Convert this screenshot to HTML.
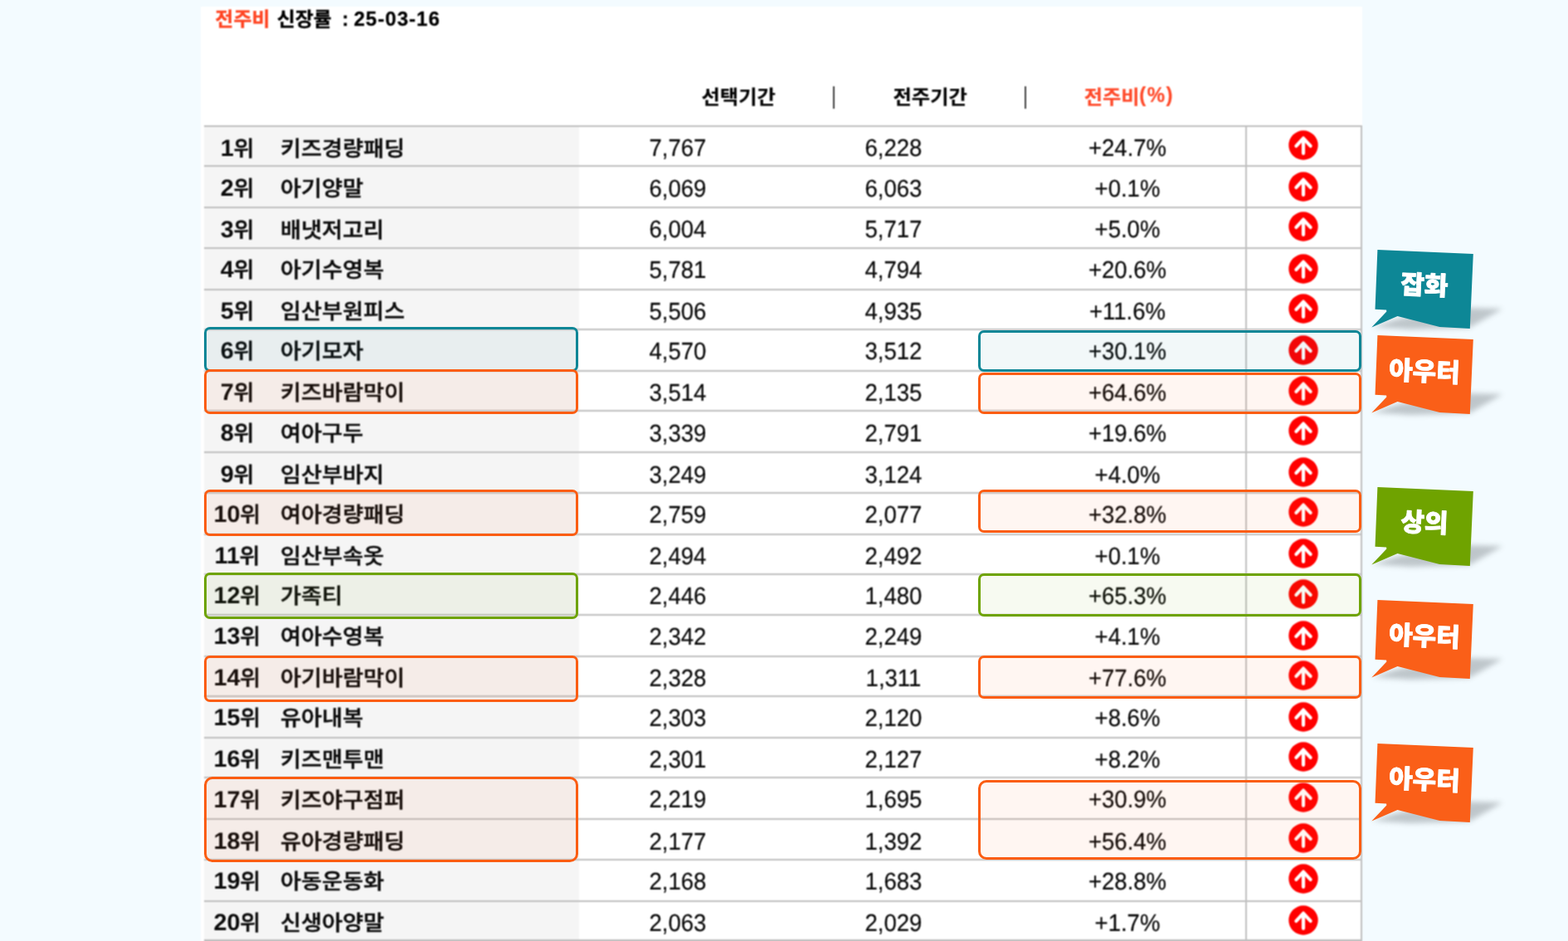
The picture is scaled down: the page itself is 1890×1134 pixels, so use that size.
<!DOCTYPE html>
<html lang="ko"><head><meta charset="utf-8"><title>전주비 신장률</title>
<style>
html,body{margin:0;padding:0}
body{width:1890px;height:1134px;overflow:hidden;position:relative;background:#f3fbff;
 font-family:"Liberation Sans","Noto Sans CJK KR",sans-serif;color:#222}
#page{position:absolute;left:0;top:0;width:1890px;height:1134px;overflow:hidden;filter:url(#soft)}
.panel,.ttl,.hd,.pipe,.gcol,.hl,.vl,.rk,.nm,.nu,.ic,.box,.bub{position:absolute}
.panel{left:242px;top:8px;width:1400px;height:1126px;background:#fff}
.ttl{top:0;height:46px;line-height:46px;font-size:24px;font-weight:700;color:#000;white-space:nowrap;transform-origin:0 70%;-webkit-text-stroke:.3px currentColor}
.ttl.red{color:#ff4422}
.ttl.k{transform:scaleY(.96)}
.ttl.n{letter-spacing:1.05px;transform:scaleY(1.03)}
.hd{top:96px;height:40px;line-height:40px;font-size:24px;font-weight:700;color:#050505;-webkit-text-stroke:.2px currentColor;white-space:nowrap;text-align:center;width:160px}
.hd u{display:inline-block;text-decoration:none;transform:translateY(.4px) scale(1.01,.955);transform-origin:50% 78%}
.hd.red{color:#ff4a2a}
.hd i{display:inline-block;font-style:normal;letter-spacing:1.5px;transform:translateY(-.6px) scaleY(1.1);transform-origin:50% 70%}
.pipe{width:2px;height:27px;top:104px;background:#444}
.gcol{left:246px;top:152px;width:452px;height:982px;background:#f5f5f5}
.hl{left:246px;width:1396px;height:2px;background:#c0c0c0}
.vl{width:2px;top:151px;height:983px;background:#c0c0c0}
.rk,.nm,.nu{height:48px;line-height:48px;white-space:nowrap}
.rk,.nm{font-size:27px;font-weight:500;color:#0c0c0c;-webkit-text-stroke:0.55px #0c0c0c}
.rk{width:120px;text-align:center}
.rk b,.rk i{display:inline-block;font-style:normal;font-weight:500}
.rk i{transform:translateY(-1.2px) scaleY(0.925);transform-origin:50% 76%}
.rk b{font-weight:700;font-size:28px;-webkit-text-stroke:0;transform:translateY(-.7px) scale(1.03,1.012);transform-origin:50% 33.7px;margin:0 .2px 0 -.8px;text-rendering:geometricPrecision}
.nm{transform:translateY(-1.2px) scale(1.006,0.925);transform-origin:0 76%}
.nu{width:200px;text-align:center;font-weight:400;color:#0a0a0a;-webkit-text-stroke:.22px #0a0a0a;font-size:28px;transform:scale(0.983,1.04);transform-origin:50% 33.7px;text-rendering:geometricPrecision}
.ic{width:36px;height:36px}
.ic svg{display:block}
.box{box-sizing:border-box;border-style:solid;border-width:3px;border-radius:7px}
.box.t{border-color:#0c8696;background:rgba(13,135,150,.055)}
.box.o{border-color:#fb5d12;background:rgba(251,93,18,.055)}
.box.g{border-color:#6ea300;background:rgba(111,163,0,.055)}
.bub{left:1640px;width:190px;height:110px}
.bub svg{display:block;overflow:visible}
.bub text{font-family:"Liberation Sans","Noto Sans CJK KR",sans-serif;font-weight:900;font-size:31px;fill:#fff;stroke:#fff;stroke-width:.8px;stroke-linejoin:round}
</style></head><body><svg width="0" height="0" style="position:absolute" aria-hidden="true"><defs><filter id="soft" x="0" y="0" width="100%" height="100%" color-interpolation-filters="sRGB"><feConvolveMatrix order="3" kernelMatrix="0.0784 0.1232 0.0784 0.1232 0.1936 0.1232 0.0784 0.1232 0.0784" divisor="1" edgeMode="duplicate" preserveAlpha="false"/></filter></defs></svg><div id="page">
<div class="panel"></div>
<div class="ttl red k" style="left:259.3px">전주비</div>
<div class="ttl k" style="left:333.7px">신장률</div>
<div class="ttl" style="left:412.2px">:</div>
<div class="ttl n" style="left:426.4px">25-03-16</div>

<div class="hd" style="left:809.8px"><u>선택기간</u></div>
<div class="pipe" style="left:1004px"></div>
<div class="hd" style="left:1040.8px"><u>전주기간</u></div>
<div class="pipe" style="left:1235px"></div>
<div class="hd red" style="left:1281px"><u>전주비</u><i>(%)</i></div>
<div class="gcol"></div>
<div class="hl" style="top:151px"></div>
<div class="hl" style="top:199px"></div>
<div class="hl" style="top:249px"></div>
<div class="hl" style="top:298px"></div>
<div class="hl" style="top:348px"></div>
<div class="hl" style="top:396px"></div>
<div class="hl" style="top:446px"></div>
<div class="hl" style="top:494px"></div>
<div class="hl" style="top:544px"></div>
<div class="hl" style="top:593px"></div>
<div class="hl" style="top:643px"></div>
<div class="hl" style="top:691px"></div>
<div class="hl" style="top:740px"></div>
<div class="hl" style="top:790px"></div>
<div class="hl" style="top:838px"></div>
<div class="hl" style="top:888px"></div>
<div class="hl" style="top:936px"></div>
<div class="hl" style="top:986px"></div>
<div class="hl" style="top:1035px"></div>
<div class="hl" style="top:1085px"></div>
<div class="hl" style="top:1132px"></div>
<div class="vl" style="left:1501px"></div>
<div class="vl" style="left:1640px"></div>
<div class="tbl" role="table" aria-label="전주비 신장률 순위">
<div class="row" role="row">
<div class="rk" role="cell" style="left:226.5px;top:156px"><b>1</b><i>위</i></div>
<div class="nm" role="cell" style="left:337.9px;top:156px">키즈경량패딩</div>
<div class="nu" role="cell" style="left:716.8px;top:155px">7,767</div>
<div class="nu" role="cell" style="left:976.7px;top:155px">6,228</div>
<div class="nu" role="cell" style="left:1258.9px;top:155px">+24.7%</div>
<div class="ic" role="cell" style="left:1553.4px;top:156.8px"><svg width="36" height="36" viewBox="0 0 36 36"><circle cx="18" cy="18" r="17.7" fill="#ff0000"/><path d="M18 27.8V9.8M9.4 18.9L18 9.6L26.6 18.9" fill="none" stroke="#fff" stroke-width="4.2" stroke-linecap="round" stroke-linejoin="round"/></svg></div>
</div>
<div class="row" role="row">
<div class="rk" role="cell" style="left:226.5px;top:204px"><b>2</b><i>위</i></div>
<div class="nm" role="cell" style="left:337.9px;top:204px">아기양말</div>
<div class="nu" role="cell" style="left:716.8px;top:204px">6,069</div>
<div class="nu" role="cell" style="left:976.7px;top:204px">6,063</div>
<div class="nu" role="cell" style="left:1258.9px;top:204px">+0.1%</div>
<div class="ic" role="cell" style="left:1553.4px;top:207px"><svg width="36" height="36" viewBox="0 0 36 36"><circle cx="18" cy="18" r="17.7" fill="#ff0000"/><path d="M18 27.8V9.8M9.4 18.9L18 9.6L26.6 18.9" fill="none" stroke="#fff" stroke-width="4.2" stroke-linecap="round" stroke-linejoin="round"/></svg></div>
</div>
<div class="row" role="row">
<div class="rk" role="cell" style="left:226.5px;top:254px"><b>3</b><i>위</i></div>
<div class="nm" role="cell" style="left:337.9px;top:254px">배냇저고리</div>
<div class="nu" role="cell" style="left:716.8px;top:253px">6,004</div>
<div class="nu" role="cell" style="left:976.7px;top:253px">5,717</div>
<div class="nu" role="cell" style="left:1258.9px;top:253px">+5.0%</div>
<div class="ic" role="cell" style="left:1553.4px;top:255.3px"><svg width="36" height="36" viewBox="0 0 36 36"><circle cx="18" cy="18" r="17.7" fill="#ff0000"/><path d="M18 27.8V9.8M9.4 18.9L18 9.6L26.6 18.9" fill="none" stroke="#fff" stroke-width="4.2" stroke-linecap="round" stroke-linejoin="round"/></svg></div>
</div>
<div class="row" role="row">
<div class="rk" role="cell" style="left:226.5px;top:302px"><b>4</b><i>위</i></div>
<div class="nm" role="cell" style="left:337.9px;top:302px">아기수영복</div>
<div class="nu" role="cell" style="left:716.8px;top:302px">5,781</div>
<div class="nu" role="cell" style="left:976.7px;top:302px">4,794</div>
<div class="nu" role="cell" style="left:1258.9px;top:302px">+20.6%</div>
<div class="ic" role="cell" style="left:1553.4px;top:305.8px"><svg width="36" height="36" viewBox="0 0 36 36"><circle cx="18" cy="18" r="17.7" fill="#ff0000"/><path d="M18 27.8V9.8M9.4 18.9L18 9.6L26.6 18.9" fill="none" stroke="#fff" stroke-width="4.2" stroke-linecap="round" stroke-linejoin="round"/></svg></div>
</div>
<div class="row" role="row">
<div class="rk" role="cell" style="left:226.5px;top:352px"><b>5</b><i>위</i></div>
<div class="nm" role="cell" style="left:337.9px;top:352px">임산부원피스</div>
<div class="nu" role="cell" style="left:716.8px;top:352px">5,506</div>
<div class="nu" role="cell" style="left:976.7px;top:352px">4,935</div>
<div class="nu" role="cell" style="left:1258.9px;top:352px">+11.6%</div>
<div class="ic" role="cell" style="left:1553.4px;top:353.7px"><svg width="36" height="36" viewBox="0 0 36 36"><circle cx="18" cy="18" r="17.7" fill="#ff0000"/><path d="M18 27.8V9.8M9.4 18.9L18 9.6L26.6 18.9" fill="none" stroke="#fff" stroke-width="4.2" stroke-linecap="round" stroke-linejoin="round"/></svg></div>
</div>
<div class="row" role="row">
<div class="rk" role="cell" style="left:226.5px;top:400px"><b>6</b><i>위</i></div>
<div class="nm" role="cell" style="left:337.9px;top:400px">아기모자</div>
<div class="nu" role="cell" style="left:716.8px;top:400px">4,570</div>
<div class="nu" role="cell" style="left:976.7px;top:400px">3,512</div>
<div class="nu" role="cell" style="left:1258.9px;top:400px">+30.1%</div>
<div class="ic" role="cell" style="left:1553.4px;top:404.1px"><svg width="36" height="36" viewBox="0 0 36 36"><circle cx="18" cy="18" r="17.7" fill="#ff0000"/><path d="M18 27.8V9.8M9.4 18.9L18 9.6L26.6 18.9" fill="none" stroke="#fff" stroke-width="4.2" stroke-linecap="round" stroke-linejoin="round"/></svg></div>
</div>
<div class="row" role="row">
<div class="rk" role="cell" style="left:226.5px;top:450px"><b>7</b><i>위</i></div>
<div class="nm" role="cell" style="left:337.9px;top:450px">키즈바람막이</div>
<div class="nu" role="cell" style="left:716.8px;top:450px">3,514</div>
<div class="nu" role="cell" style="left:976.7px;top:450px">2,135</div>
<div class="nu" role="cell" style="left:1258.9px;top:450px">+64.6%</div>
<div class="ic" role="cell" style="left:1553.4px;top:452.6px"><svg width="36" height="36" viewBox="0 0 36 36"><circle cx="18" cy="18" r="17.7" fill="#ff0000"/><path d="M18 27.8V9.8M9.4 18.9L18 9.6L26.6 18.9" fill="none" stroke="#fff" stroke-width="4.2" stroke-linecap="round" stroke-linejoin="round"/></svg></div>
</div>
<div class="row" role="row">
<div class="rk" role="cell" style="left:226.5px;top:499px"><b>8</b><i>위</i></div>
<div class="nm" role="cell" style="left:337.9px;top:499px">여아구두</div>
<div class="nu" role="cell" style="left:716.8px;top:499px">3,339</div>
<div class="nu" role="cell" style="left:976.7px;top:499px">2,791</div>
<div class="nu" role="cell" style="left:1258.9px;top:499px">+19.6%</div>
<div class="ic" role="cell" style="left:1553.4px;top:500.7px"><svg width="36" height="36" viewBox="0 0 36 36"><circle cx="18" cy="18" r="17.7" fill="#ff0000"/><path d="M18 27.8V9.8M9.4 18.9L18 9.6L26.6 18.9" fill="none" stroke="#fff" stroke-width="4.2" stroke-linecap="round" stroke-linejoin="round"/></svg></div>
</div>
<div class="row" role="row">
<div class="rk" role="cell" style="left:226.5px;top:549px"><b>9</b><i>위</i></div>
<div class="nm" role="cell" style="left:337.9px;top:549px">임산부바지</div>
<div class="nu" role="cell" style="left:716.8px;top:549px">3,249</div>
<div class="nu" role="cell" style="left:976.7px;top:549px">3,124</div>
<div class="nu" role="cell" style="left:1258.9px;top:549px">+4.0%</div>
<div class="ic" role="cell" style="left:1553.4px;top:550.7px"><svg width="36" height="36" viewBox="0 0 36 36"><circle cx="18" cy="18" r="17.7" fill="#ff0000"/><path d="M18 27.8V9.8M9.4 18.9L18 9.6L26.6 18.9" fill="none" stroke="#fff" stroke-width="4.2" stroke-linecap="round" stroke-linejoin="round"/></svg></div>
</div>
<div class="row" role="row">
<div class="rk" role="cell" style="left:226.5px;top:597px"><b>10</b><i>위</i></div>
<div class="nm" role="cell" style="left:337.9px;top:597px">여아경량패딩</div>
<div class="nu" role="cell" style="left:716.8px;top:597px">2,759</div>
<div class="nu" role="cell" style="left:976.7px;top:597px">2,077</div>
<div class="nu" role="cell" style="left:1258.9px;top:597px">+32.8%</div>
<div class="ic" role="cell" style="left:1553.4px;top:599px"><svg width="36" height="36" viewBox="0 0 36 36"><circle cx="18" cy="18" r="17.7" fill="#ff0000"/><path d="M18 27.8V9.8M9.4 18.9L18 9.6L26.6 18.9" fill="none" stroke="#fff" stroke-width="4.2" stroke-linecap="round" stroke-linejoin="round"/></svg></div>
</div>
<div class="row" role="row">
<div class="rk" role="cell" style="left:226.5px;top:647px"><b>11</b><i>위</i></div>
<div class="nm" role="cell" style="left:337.9px;top:647px">임산부속옷</div>
<div class="nu" role="cell" style="left:716.8px;top:647px">2,494</div>
<div class="nu" role="cell" style="left:976.7px;top:647px">2,492</div>
<div class="nu" role="cell" style="left:1258.9px;top:647px">+0.1%</div>
<div class="ic" role="cell" style="left:1553.4px;top:649px"><svg width="36" height="36" viewBox="0 0 36 36"><circle cx="18" cy="18" r="17.7" fill="#ff0000"/><path d="M18 27.8V9.8M9.4 18.9L18 9.6L26.6 18.9" fill="none" stroke="#fff" stroke-width="4.2" stroke-linecap="round" stroke-linejoin="round"/></svg></div>
</div>
<div class="row" role="row">
<div class="rk" role="cell" style="left:226.5px;top:695px"><b>12</b><i>위</i></div>
<div class="nm" role="cell" style="left:337.9px;top:695px">가족티</div>
<div class="nu" role="cell" style="left:716.8px;top:695px">2,446</div>
<div class="nu" role="cell" style="left:976.7px;top:695px">1,480</div>
<div class="nu" role="cell" style="left:1258.9px;top:695px">+65.3%</div>
<div class="ic" role="cell" style="left:1553.4px;top:697.5px"><svg width="36" height="36" viewBox="0 0 36 36"><circle cx="18" cy="18" r="17.7" fill="#ff0000"/><path d="M18 27.8V9.8M9.4 18.9L18 9.6L26.6 18.9" fill="none" stroke="#fff" stroke-width="4.2" stroke-linecap="round" stroke-linejoin="round"/></svg></div>
</div>
<div class="row" role="row">
<div class="rk" role="cell" style="left:226.5px;top:744px"><b>13</b><i>위</i></div>
<div class="nm" role="cell" style="left:337.9px;top:744px">여아수영복</div>
<div class="nu" role="cell" style="left:716.8px;top:744px">2,342</div>
<div class="nu" role="cell" style="left:976.7px;top:744px">2,249</div>
<div class="nu" role="cell" style="left:1258.9px;top:744px">+4.1%</div>
<div class="ic" role="cell" style="left:1553.4px;top:747.6px"><svg width="36" height="36" viewBox="0 0 36 36"><circle cx="18" cy="18" r="17.7" fill="#ff0000"/><path d="M18 27.8V9.8M9.4 18.9L18 9.6L26.6 18.9" fill="none" stroke="#fff" stroke-width="4.2" stroke-linecap="round" stroke-linejoin="round"/></svg></div>
</div>
<div class="row" role="row">
<div class="rk" role="cell" style="left:226.5px;top:794px"><b>14</b><i>위</i></div>
<div class="nm" role="cell" style="left:337.9px;top:794px">아기바람막이</div>
<div class="nu" role="cell" style="left:716.8px;top:794px">2,328</div>
<div class="nu" role="cell" style="left:976.7px;top:794px">1,311</div>
<div class="nu" role="cell" style="left:1258.9px;top:794px">+77.6%</div>
<div class="ic" role="cell" style="left:1553.4px;top:795.9px"><svg width="36" height="36" viewBox="0 0 36 36"><circle cx="18" cy="18" r="17.7" fill="#ff0000"/><path d="M18 27.8V9.8M9.4 18.9L18 9.6L26.6 18.9" fill="none" stroke="#fff" stroke-width="4.2" stroke-linecap="round" stroke-linejoin="round"/></svg></div>
</div>
<div class="row" role="row">
<div class="rk" role="cell" style="left:226.5px;top:842px"><b>15</b><i>위</i></div>
<div class="nm" role="cell" style="left:337.9px;top:842px">유아내복</div>
<div class="nu" role="cell" style="left:716.8px;top:842px">2,303</div>
<div class="nu" role="cell" style="left:976.7px;top:842px">2,120</div>
<div class="nu" role="cell" style="left:1258.9px;top:842px">+8.6%</div>
<div class="ic" role="cell" style="left:1553.4px;top:845.7px"><svg width="36" height="36" viewBox="0 0 36 36"><circle cx="18" cy="18" r="17.7" fill="#ff0000"/><path d="M18 27.8V9.8M9.4 18.9L18 9.6L26.6 18.9" fill="none" stroke="#fff" stroke-width="4.2" stroke-linecap="round" stroke-linejoin="round"/></svg></div>
</div>
<div class="row" role="row">
<div class="rk" role="cell" style="left:226.5px;top:892px"><b>16</b><i>위</i></div>
<div class="nm" role="cell" style="left:337.9px;top:892px">키즈맨투맨</div>
<div class="nu" role="cell" style="left:716.8px;top:892px">2,301</div>
<div class="nu" role="cell" style="left:976.7px;top:892px">2,127</div>
<div class="nu" role="cell" style="left:1258.9px;top:892px">+8.2%</div>
<div class="ic" role="cell" style="left:1553.4px;top:894.1px"><svg width="36" height="36" viewBox="0 0 36 36"><circle cx="18" cy="18" r="17.7" fill="#ff0000"/><path d="M18 27.8V9.8M9.4 18.9L18 9.6L26.6 18.9" fill="none" stroke="#fff" stroke-width="4.2" stroke-linecap="round" stroke-linejoin="round"/></svg></div>
</div>
<div class="row" role="row">
<div class="rk" role="cell" style="left:226.5px;top:941px"><b>17</b><i>위</i></div>
<div class="nm" role="cell" style="left:337.9px;top:941px">키즈야구점퍼</div>
<div class="nu" role="cell" style="left:716.8px;top:940px">2,219</div>
<div class="nu" role="cell" style="left:976.7px;top:940px">1,695</div>
<div class="nu" role="cell" style="left:1258.9px;top:940px">+30.9%</div>
<div class="ic" role="cell" style="left:1553.4px;top:942.8px"><svg width="36" height="36" viewBox="0 0 36 36"><circle cx="18" cy="18" r="17.7" fill="#ff0000"/><path d="M18 27.8V9.8M9.4 18.9L18 9.6L26.6 18.9" fill="none" stroke="#fff" stroke-width="4.2" stroke-linecap="round" stroke-linejoin="round"/></svg></div>
</div>
<div class="row" role="row">
<div class="rk" role="cell" style="left:226.5px;top:991px"><b>18</b><i>위</i></div>
<div class="nm" role="cell" style="left:337.9px;top:991px">유아경량패딩</div>
<div class="nu" role="cell" style="left:716.8px;top:991px">2,177</div>
<div class="nu" role="cell" style="left:976.7px;top:991px">1,392</div>
<div class="nu" role="cell" style="left:1258.9px;top:991px">+56.4%</div>
<div class="ic" role="cell" style="left:1553.4px;top:992.4px"><svg width="36" height="36" viewBox="0 0 36 36"><circle cx="18" cy="18" r="17.7" fill="#ff0000"/><path d="M18 27.8V9.8M9.4 18.9L18 9.6L26.6 18.9" fill="none" stroke="#fff" stroke-width="4.2" stroke-linecap="round" stroke-linejoin="round"/></svg></div>
</div>
<div class="row" role="row">
<div class="rk" role="cell" style="left:226.5px;top:1039px"><b>19</b><i>위</i></div>
<div class="nm" role="cell" style="left:337.9px;top:1039px">아동운동화</div>
<div class="nu" role="cell" style="left:716.8px;top:1039px">2,168</div>
<div class="nu" role="cell" style="left:976.7px;top:1039px">1,683</div>
<div class="nu" role="cell" style="left:1258.9px;top:1039px">+28.8%</div>
<div class="ic" role="cell" style="left:1553.4px;top:1040.7px"><svg width="36" height="36" viewBox="0 0 36 36"><circle cx="18" cy="18" r="17.7" fill="#ff0000"/><path d="M18 27.8V9.8M9.4 18.9L18 9.6L26.6 18.9" fill="none" stroke="#fff" stroke-width="4.2" stroke-linecap="round" stroke-linejoin="round"/></svg></div>
</div>
<div class="row" role="row">
<div class="rk" role="cell" style="left:226.5px;top:1089px"><b>20</b><i>위</i></div>
<div class="nm" role="cell" style="left:337.9px;top:1089px">신생아양말</div>
<div class="nu" role="cell" style="left:716.8px;top:1089px">2,063</div>
<div class="nu" role="cell" style="left:976.7px;top:1089px">2,029</div>
<div class="nu" role="cell" style="left:1258.9px;top:1089px">+1.7%</div>
<div class="ic" role="cell" style="left:1553.4px;top:1091.1px"><svg width="36" height="36" viewBox="0 0 36 36"><circle cx="18" cy="18" r="17.7" fill="#ff0000"/><path d="M18 27.8V9.8M9.4 18.9L18 9.6L26.6 18.9" fill="none" stroke="#fff" stroke-width="4.2" stroke-linecap="round" stroke-linejoin="round"/></svg></div>
</div>
</div>
</div>
<div class="box t" style="left:246px;top:394px;width:451px;height:54px;border-radius:7px"></div>
<div class="box o" style="left:246px;top:445px;width:451px;height:54px;border-radius:7px"></div>
<div class="box o" style="left:246px;top:590px;width:451px;height:56px;border-radius:7px"></div>
<div class="box g" style="left:246px;top:690px;width:451px;height:55.5px;border-radius:7px"></div>
<div class="box o" style="left:246px;top:790px;width:451px;height:56px;border-radius:7px"></div>
<div class="box o" style="left:246px;top:936px;width:451px;height:103px;border-radius:10px"></div>
<div class="box t" style="left:1179px;top:398px;width:462px;height:50px;border-radius:7px"></div>
<div class="box o" style="left:1179px;top:449px;width:462px;height:50px;border-radius:7px"></div>
<div class="box o" style="left:1179px;top:590px;width:462px;height:52px;border-radius:7px"></div>
<div class="box g" style="left:1179px;top:691px;width:462px;height:52px;border-radius:7px"></div>
<div class="box o" style="left:1179px;top:790px;width:462px;height:52px;border-radius:7px"></div>
<div class="box o" style="left:1179px;top:940px;width:462px;height:96px;border-radius:10px"></div>
<div class="bub" style="top:299.2px"><svg width="190" height="110" viewBox="0 0 190 110"><defs><filter id="f301" x="-30%" y="-80%" width="160%" height="260%"><feGaussianBlur stdDeviation="3"/></filter></defs><polygon points="14,95 46,85 128,72 171,73 152,84 131,96 60,98" fill="#7f868b" opacity="0.45" filter="url(#f301)"/><polygon points="20.4,2.0 135.8,6.9 131.8,97.0 95.3,95.1 44.5,81.9 13.3,95.6 31.3,76.6 31.1,74.5 17.5,73.7" fill="#0d8796"/><text x="77" y="55.8" text-anchor="middle" transform="rotate(2.4 77 45)">잡화</text></svg></div>
<div class="bub" style="top:402px"><svg width="190" height="110" viewBox="0 0 190 110"><defs><filter id="f404" x="-30%" y="-80%" width="160%" height="260%"><feGaussianBlur stdDeviation="3"/></filter></defs><polygon points="14,95 46,85 128,72 171,73 152,84 131,96 60,98" fill="#7f868b" opacity="0.45" filter="url(#f404)"/><polygon points="20.4,2.0 135.8,6.9 131.8,97.0 95.3,95.1 44.5,81.9 13.3,95.6 31.3,76.6 31.1,74.5 17.5,73.7" fill="#fa5f18"/><text x="77" y="56.6" text-anchor="middle" transform="rotate(2.4 77 45)">아우터</text></svg></div>
<div class="bub" style="top:585px"><svg width="190" height="110" viewBox="0 0 190 110"><defs><filter id="f587" x="-30%" y="-80%" width="160%" height="260%"><feGaussianBlur stdDeviation="3"/></filter></defs><polygon points="14,95 46,85 128,72 171,73 152,84 131,96 60,98" fill="#7f868b" opacity="0.45" filter="url(#f587)"/><polygon points="20.4,2.0 135.8,6.9 131.8,97.0 95.3,95.1 44.5,81.9 13.3,95.6 31.3,76.6 31.1,74.5 17.5,73.7" fill="#6fa300"/><text x="77" y="55.8" text-anchor="middle" transform="rotate(2.4 77 45)">상의</text></svg></div>
<div class="bub" style="top:721.1px"><svg width="190" height="110" viewBox="0 0 190 110"><defs><filter id="f723" x="-30%" y="-80%" width="160%" height="260%"><feGaussianBlur stdDeviation="3"/></filter></defs><polygon points="14,95 46,85 128,72 171,73 152,84 131,96 60,98" fill="#7f868b" opacity="0.45" filter="url(#f723)"/><polygon points="20.4,2.0 135.8,6.9 131.8,97.0 95.3,95.1 44.5,81.9 13.3,95.6 31.3,76.6 31.1,74.5 17.5,73.7" fill="#fa5f18"/><text x="77" y="56.6" text-anchor="middle" transform="rotate(2.4 77 45)">아우터</text></svg></div>
<div class="bub" style="top:894px"><svg width="190" height="110" viewBox="0 0 190 110"><defs><filter id="f896" x="-30%" y="-80%" width="160%" height="260%"><feGaussianBlur stdDeviation="3"/></filter></defs><polygon points="14,95 46,85 128,72 171,73 152,84 131,96 60,98" fill="#7f868b" opacity="0.45" filter="url(#f896)"/><polygon points="20.4,2.0 135.8,6.9 131.8,97.0 95.3,95.1 44.5,81.9 13.3,95.6 31.3,76.6 31.1,74.5 17.5,73.7" fill="#fa5f18"/><text x="77" y="56.6" text-anchor="middle" transform="rotate(2.4 77 45)">아우터</text></svg></div>
</body></html>
